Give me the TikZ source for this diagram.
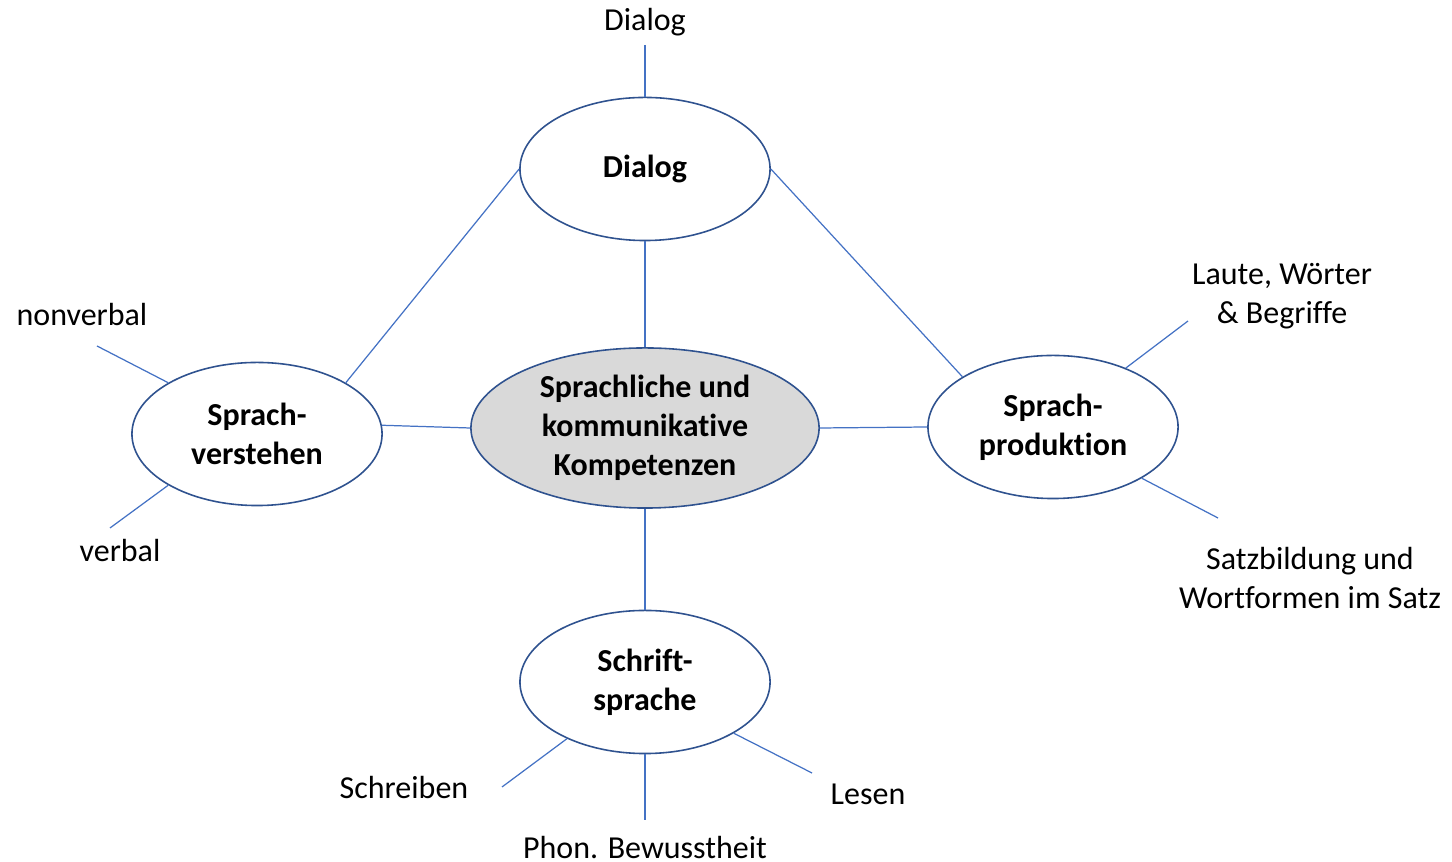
\documentclass[tikz,border=0pt]{standalone}
\usepackage{fontspec}
\setmainfont{Carlito}[Ligatures=NoCommon]
\usepackage[HTML]{xcolor}
\usepackage{tikz}
\usetikzlibrary{positioning, shapes.geometric}
\definecolor{linkblue}{HTML}{4472C4}
\definecolor{rimblue}{HTML}{2F528F}
\definecolor{kerngray}{HTML}{D9D9D9}
\begin{document}
\begin{tikzpicture}[x=0.01cm,y=-0.01cm,
  font=\fontsize{9.1}{11.1}\selectfont,
  oval/.style={ellipse,draw=rimblue,line width=0.45pt,fill=white,inner sep=0pt,
    minimum width=2.5cm,minimum height=1.43cm,align=center,font=\fontsize{9.1}{11.1}\selectfont\bfseries},
  link/.style={draw=linkblue,line width=0.35pt},
  lbl/.style={align=center,inner sep=0pt,yshift=-0.7pt}]
\useasboundingbox (0,0) rectangle (1452,862);
% ellipses
\node[oval] (dialog) at (645,169) {\raisebox{-0.8pt}{Dialog}};
\node[oval,fill=kerngray,minimum width=3.48cm,minimum height=1.6cm] (kern) at (645,428) {Sprachliche und\\kommunikative\\Kompetenzen};
\node[oval] (verstehen) at (257,434) {Sprach-\\verstehen};
\node[oval] (produktion) at (1053,427) {Sprach-\\produktion};
\node[oval] (schrift) at (645,682) {Schrift-\\sprache};
% labels
\node[lbl] (dialogtxt) at (645,20) {Dialog};
\node[lbl] (nonverbal) at (82,312) {nonverbal};
\node[lbl] (verbal) at (120,548) {verbal};
\node[lbl] (laute) at (1282,294) {Laute, Wörter\\\& Begriffe};
\node[lbl] (satz) at (1310,576) {Satzbildung und\\Wortformen im Satz};
\node[lbl] (schreiben) at (404,785) {Schreiben};
\node[lbl] (phon) at (645,845) {Phon. Bewusstheit};
\node[lbl] (lesen) at (868,792) {Lesen};
% free ends
\coordinate (cDialog) at (645,45);
\coordinate (cNonverbal) at (97,346);
\coordinate (cVerbal) at (110,528);
\coordinate (cLaute) at (1188,321);
\coordinate (cSatz) at (1218,518);
\coordinate (cSchreiben) at (502,787);
\coordinate (cPhon) at (645,820);
\coordinate (cLesen) at (812,773);
% connectors
\draw[link] (cDialog) -- (dialog.north);
\draw[link] (dialog.south) -- (kern.north);
\draw[link] (dialog.west) -- (verstehen.30);
\draw[link] (dialog.east) -- (produktion.151);
\draw[link] (verstehen.4) -- (kern.west);
\draw[link] (kern.east) -- (produktion.west);
\draw[link] (kern.south) -- (schrift.north);
\draw[link] (verstehen.150) -- (cNonverbal);
\draw[link] (verstehen.210) -- (cVerbal);
\draw[link] (produktion.39) -- (cLaute);
\draw[link] (produktion.-30) -- (cSatz);
\draw[link] (schrift.216) -- (cSchreiben);
\draw[link] (schrift.south) -- (cPhon);
\draw[link] (schrift.-30) -- (cLesen);
\end{tikzpicture}
\end{document}
